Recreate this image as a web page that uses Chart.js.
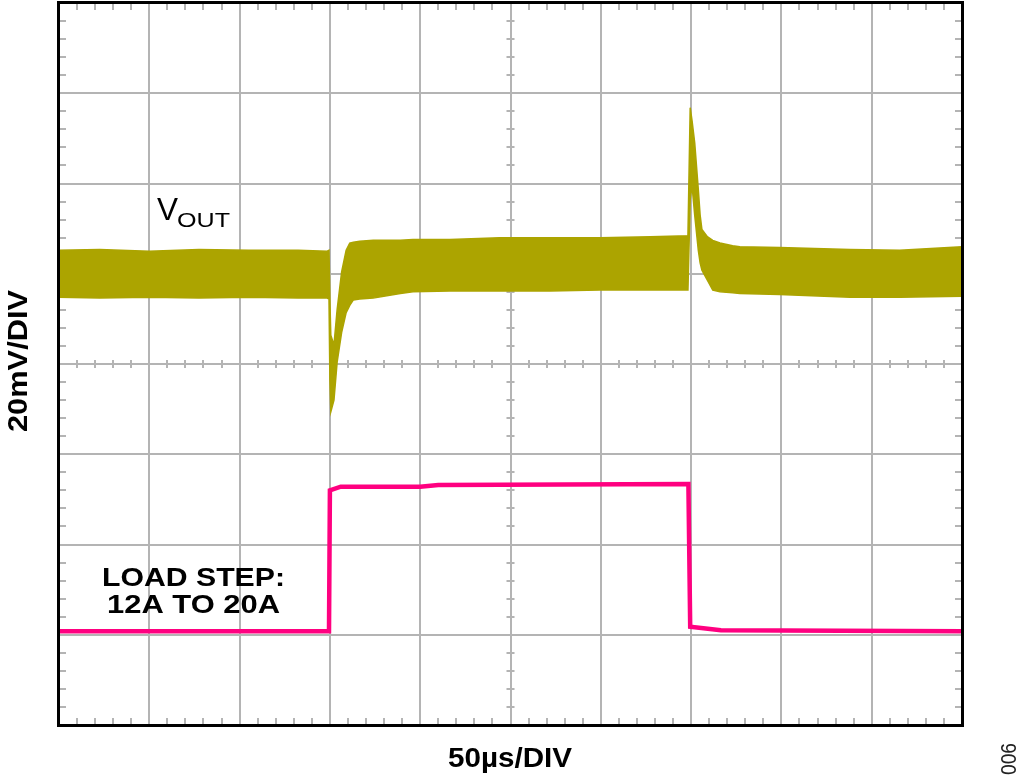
<!DOCTYPE html>
<html>
<head>
<meta charset="utf-8">
<script src="https://cdn.jsdelivr.net/npm/chart.js@4.4.0/dist/chart.umd.min.js"></script>
<style>
  body { margin: 0; background: #fff; }
  canvas { display: block; }
</style>
</head>
<body>
<canvas id="chart" width="1024" height="782"></canvas>
<script>
// scope screen: 10 x 8 divisions, 50us/DIV and 20mV/DIV
const X_DIVS = 10;
const Y_DIVS = 8;

// VOUT trace, read as the top and bottom edge of the ripple band (in divisions)
const voutTime  = [0, 0.45, 1.0, 1.55, 2.1, 2.65, 2.97, 2.99, 3.0, 3.01,
                   3.045, 3.08, 3.13, 3.18, 3.22, 3.26, 3.33, 3.48, 3.78, 3.92,
                   4.33, 4.88, 5.44, 5.99, 6.55, 6.965, 6.99, 7.01, 7.04, 7.08,
                   7.10, 7.12, 7.18, 7.24, 7.32, 7.46, 7.54, 7.98, 8.76, 9.31, 10];
const voutUpper = [5.26, 5.27, 5.25, 5.27, 5.26, 5.26, 5.25, 5.26, 4.71, 4.32,
                   4.21, 4.60, 5.02, 5.26, 5.34, 5.35, 5.36, 5.37, 5.37, 5.38,
                   5.38, 5.40, 5.40, 5.40, 5.41, 5.42, 6.84, 6.70, 6.45, 5.93,
                   5.65, 5.49, 5.41, 5.37, 5.34, 5.31, 5.30, 5.29, 5.27, 5.26, 5.30];
const voutLower = [4.74, 4.73, 4.74, 4.73, 4.74, 4.73, 4.73, 4.72, 3.82, 3.47,
                   3.60, 4.02, 4.35, 4.57, 4.65, 4.71, 4.72, 4.73, 4.78, 4.80,
                   4.81, 4.81, 4.81, 4.82, 4.82, 4.82, 5.82, 5.98, 5.65, 5.26,
                   5.12, 5.04, 4.93, 4.82, 4.80, 4.79, 4.78, 4.77, 4.74, 4.74, 4.75];

// load current step 12A -> 20A -> 12A
const loadTime  = [0, 2.99, 3.0, 3.12, 4.0, 4.2, 6.97, 6.99, 7.33, 10];
const loadLevel = [1.04, 1.04, 2.60, 2.64, 2.64, 2.66, 2.67, 1.09, 1.05, 1.04];

const OLIVE = '#aca400';
const PINK = '#ff0080';
const GRID = '#b4b4b4';

const pts = (xs, ys) => xs.map((v, i) => ({ x: v, y: ys[i] }));

const scopeGrid = {
  id: 'scopeGrid',
  beforeDatasetsDraw(chart) {
    const { ctx, chartArea: a, scales: { x, y } } = chart;
    const xc = x.getPixelForValue(X_DIVS / 2);
    const yc = y.getPixelForValue(Y_DIVS / 2);
    ctx.save();
    ctx.strokeStyle = GRID;
    ctx.lineWidth = 2;
    ctx.beginPath();
    for (let i = 1; i < X_DIVS; i++) {
      const px = Math.round(x.getPixelForValue(i));
      ctx.moveTo(px, a.top); ctx.lineTo(px, a.bottom);
    }
    for (let i = 1; i < Y_DIVS; i++) {
      const py = Math.round(y.getPixelForValue(i));
      ctx.moveTo(a.left, py); ctx.lineTo(a.right, py);
    }
    // minor ticks, 5 per division, on the frame and on the centre cross
    for (let i = 1; i < X_DIVS * 5; i++) {
      if (i % 5 === 0) continue;
      const px = Math.round(x.getPixelForValue(i / 5));
      ctx.moveTo(px, a.top); ctx.lineTo(px, a.top + 7);
      ctx.moveTo(px, a.bottom); ctx.lineTo(px, a.bottom - 7);
      ctx.moveTo(px, yc - 4); ctx.lineTo(px, yc + 4);
    }
    for (let i = 1; i < Y_DIVS * 5; i++) {
      if (i % 5 === 0) continue;
      const py = Math.round(y.getPixelForValue(i / 5));
      ctx.moveTo(a.left, py); ctx.lineTo(a.left + 7, py);
      ctx.moveTo(a.right, py); ctx.lineTo(a.right - 7, py);
      ctx.moveTo(xc - 4, py); ctx.lineTo(xc + 4, py);
    }
    ctx.stroke();
    ctx.restore();
  },
  afterDatasetsDraw(chart) {
    const { ctx, chartArea: a } = chart;
    ctx.save();
    ctx.strokeStyle = '#000';
    ctx.lineWidth = 3;
    ctx.strokeRect(a.left - 0.5, a.top - 0.5, a.right - a.left + 1, a.bottom - a.top + 1);
    ctx.restore();
  }
};

// draws text squeezed/stretched to a given width
function fitText(ctx, str, x, y, font, width, angle) {
  ctx.save();
  ctx.font = font;
  const w = ctx.measureText(str).width;
  ctx.translate(x, y);
  if (angle) ctx.rotate(angle);
  ctx.scale(width / w, 1);
  ctx.fillText(str, 0, 0);
  ctx.restore();
}

const FONT = '"Liberation Sans", Arial, Helvetica, sans-serif';

const labels = {
  id: 'labels',
  afterDraw(chart) {
    const ctx = chart.ctx;
    ctx.save();
    ctx.fillStyle = '#000';
    ctx.textAlign = 'left';
    ctx.textBaseline = 'alphabetic';
    fitText(ctx, 'V', 157, 220, '31px ' + FONT, 21);
    fitText(ctx, 'OUT', 177, 227, '21px ' + FONT, 53);
    fitText(ctx, 'LOAD STEP:', 102, 586, 'bold 26px ' + FONT, 183);
    fitText(ctx, '12A TO 20A', 107, 613, 'bold 26px ' + FONT, 173);
    fitText(ctx, '50µs/DIV', 448, 767, 'bold 27px ' + FONT, 124);
    fitText(ctx, '20mV/DIV', 27, 432, 'bold 28px ' + FONT, 142, -Math.PI / 2);
    ctx.fillStyle = '#222';
    fitText(ctx, '006', 1016, 775, '22px ' + FONT, 32, -Math.PI / 2);
    ctx.restore();
  }
};

new Chart('chart', {
  type: 'line',
  data: {
    datasets: [
      {
        label: 'VOUT high',
        data: pts(voutTime, voutUpper),
        borderColor: OLIVE,
        borderWidth: 1.5,
        pointRadius: 0,
        fill: false
      },
      {
        label: 'VOUT low',
        data: pts(voutTime, voutLower),
        borderColor: OLIVE,
        borderWidth: 1.5,
        backgroundColor: OLIVE,
        pointRadius: 0,
        fill: '-1'
      },
      {
        label: 'Load step',
        data: pts(loadTime, loadLevel),
        borderColor: PINK,
        borderWidth: 4.5,
        pointRadius: 0,
        fill: false
      }
    ]
  },
  options: {
    responsive: false,
    animation: false,
    layout: { padding: { left: 59, right: 62, top: 3, bottom: 57 } },
    scales: {
      x: { type: 'linear', min: 0, max: X_DIVS, display: false },
      y: { type: 'linear', min: 0, max: Y_DIVS, display: false }
    },
    plugins: {
      legend: { display: false },
      tooltip: { enabled: false }
    }
  },
  plugins: [scopeGrid, labels]
});
</script>
</body>
</html>
